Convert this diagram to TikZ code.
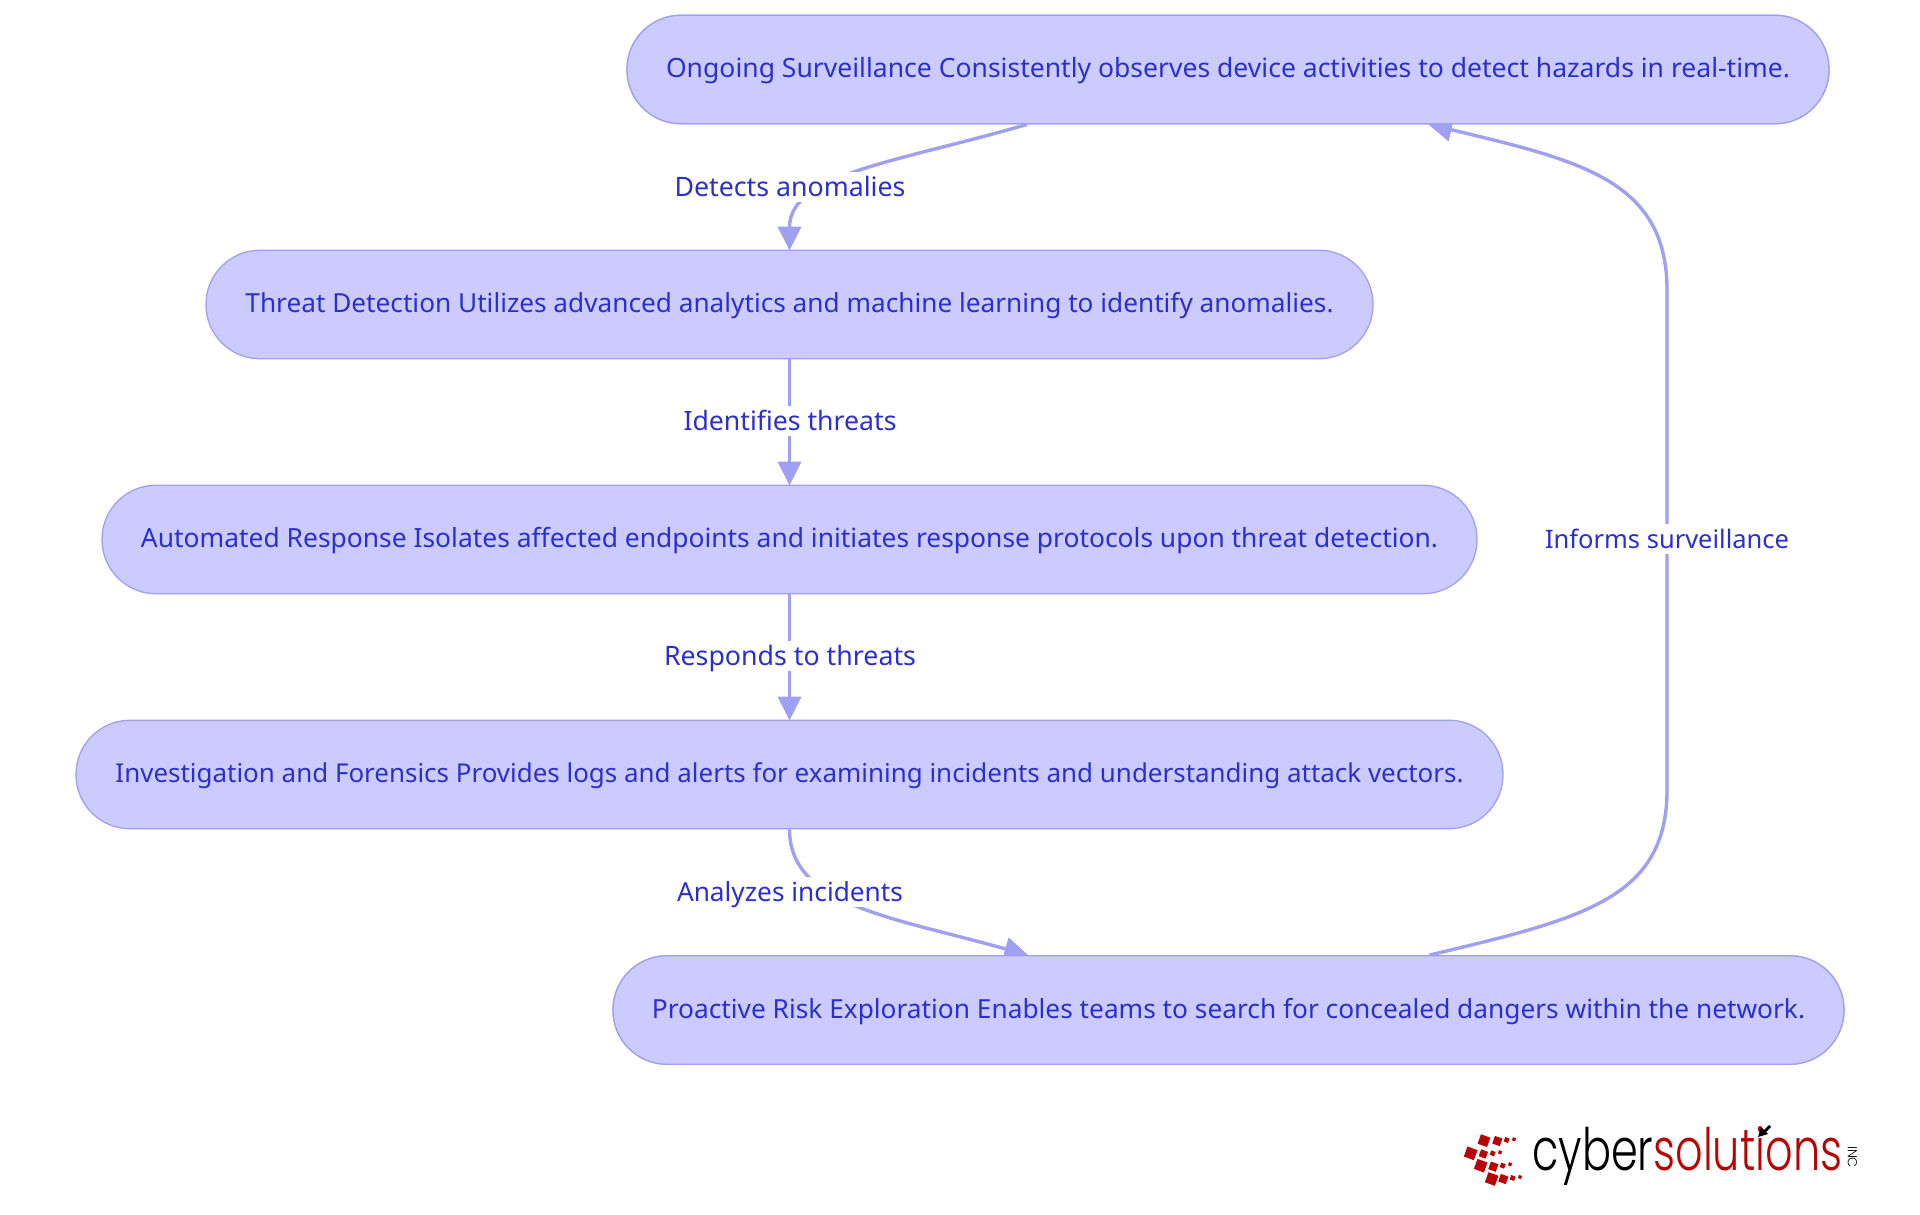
\documentclass[tikz,border=0pt]{standalone}
\usepackage{fontspec}
\usepackage{graphicx}
\setmainfont{Noto Sans}
\newfontfamily\logofont[UprightFont=* Light]{Poppins}
\usetikzlibrary{arrows.meta}
\definecolor{nodefill}{HTML}{CBCBFF}
\definecolor{edgecol}{HTML}{A0A0F2}
\definecolor{txtcol}{HTML}{2B2FCB}
\definecolor{logored}{HTML}{B80404}
\newcommand{\fit}[2]{\raisebox{0pt}[18pt][1.6pt]{\resizebox{#1pt}{!}{#2}}}
\newcommand{\fitl}[2]{\raisebox{0pt}[19.5pt][0pt]{\resizebox{#1pt}{!}{#2}}}
\tikzset{
  pill/.style={draw=edgecol,fill=nodefill,line width=1.3pt,rounded corners=54pt,minimum height=108.5pt,inner sep=0pt,text=txtcol,font=\fontsize{19.6pt}{24pt}\selectfont},
  lab/.style={fill=white,inner sep=0pt,minimum height=30pt,text=txtcol,font=\fontsize{19.6pt}{24pt}\selectfont},
  link/.style={draw=edgecol,line width=3.4pt,shorten >=-1pt,-{Triangle[length=24pt,width=23pt]}},
  linkfoot/.style={draw=edgecol,line width=3.4pt},
  logosq/.style={fill=logored}
}
\begin{document}
\begin{tikzpicture}[x=1pt,y=-1pt]
\useasboundingbox (0,0) rectangle (1920,1215);
\node[pill,minimum width=1202pt] (n1) at (1228,69.5) {\fit{1124}{Ongoing Surveillance Consistently observes device activities to detect hazards in real-time.}};
\node[pill,minimum width=1167pt] (n2) at (789.5,304.5) {\fit{1088}{Threat Detection Utilizes advanced analytics and machine learning to identify anomalies.}};
\node[pill,minimum width=1375pt] (n3) at (789.5,539.5) {\fit{1297}{Automated Response Isolates affected endpoints and initiates response protocols upon threat detection.}};
\node[pill,minimum width=1427pt] (n4) at (789.5,774.5) {\fit{1348}{Investigation and Forensics Provides logs and alerts for examining incidents and understanding attack vectors.}};
\node[pill,minimum width=1231pt] (n5) at (1228.5,1010) {\fit{1153}{Proactive Risk Exploration Enables teams to search for concealed dangers within the network.}};
\coordinate (c1a) at ([xshift=-201pt]n1.south);
\coordinate (c1b) at ([xshift=201pt]n1.south);
\coordinate (c5a) at ([xshift=-201pt]n5.north);
\coordinate (c5b) at ([xshift=201pt]n5.north);
\coordinate (vtop) at (1667,290);
\coordinate (vbot) at (1667,790);
\draw[link] (c1a) .. controls +(-130,38) and +(0,-76) .. (n2.north);
\draw[link] (n2.south) -- (n3.north);
\draw[link] (n3.south) -- (n4.north);
\draw[link] (n4.south) .. controls +(0,76) and +(-135,-38) .. (c5a);
\draw[linkfoot] (c5b) .. controls +(150,-36) and +(0,110) .. (vbot) -- (vtop);
\draw[link] (vtop) .. controls +(0,-110) and +(150,36) .. (c1b);
% labels
\node[lab] (l1) at (790,186.5) {\fitl{231}{Detects anomalies}};
\node[lab] (l2) at (790,420.5) {\fitl{213}{Identifies threats}};
\node[lab] (l3) at (790,655.5) {\fitl{252}{Responds to threats}};
\node[lab] (l4) at (790,892) {\fitl{226}{Analyzes incidents}};
\node[lab] (l5) at (1667,539) {\fitl{244}{Informs surveillance}};
% redraw nodes over arrow tips
\node[pill,minimum width=1202pt] (n1b) at (1228,69.5) {\fit{1124}{Ongoing Surveillance Consistently observes device activities to detect hazards in real-time.}};
\node[pill,minimum width=1231pt] (n5b) at (1228.5,1010) {\fit{1153}{Proactive Risk Exploration Enables teams to search for concealed dangers within the network.}};
% logo squares
\foreach \cx/\cy/\s in {132/92/30,172/93/24,200/90/14,222/88/10,
  92/130/32,130/132/22,158/130/14,180/127/10,
  122/167/32,160/170/24,188/167/14,210/163/10,
  155/207/32,190/207/24,218/204/14,240/201/10}{
  \pgfmathsetmacro{\px}{1440+\cx/3}
  \pgfmathsetmacro{\py}{1110+\cy/3}
  \pgfmathsetmacro{\hs}{\s/6}
  \fill[logosq,rotate around={-20:(\px,\py)}] (\px-\hs,\py-\hs) rectangle (\px+\hs,\py+\hs);
}
% logo text
\node[inner sep=0pt,anchor=base west] (logo) at (1532,1170) {\resizebox{310pt}{44pt}{\logofont\color{black}cyber\color{logored}solutions}};
\node[inner sep=0pt,rotate=-90,text=black] (inc) at (1852.5,1157) {\logofont\fontsize{13pt}{14pt}\selectfont INC};
\fill[black] (1758,1137) -- (1761,1127) -- (1764,1130) -- (1769,1125) -- (1771,1127) -- (1766,1132) -- (1768,1134) -- cycle;
\end{tikzpicture}
\end{document}
